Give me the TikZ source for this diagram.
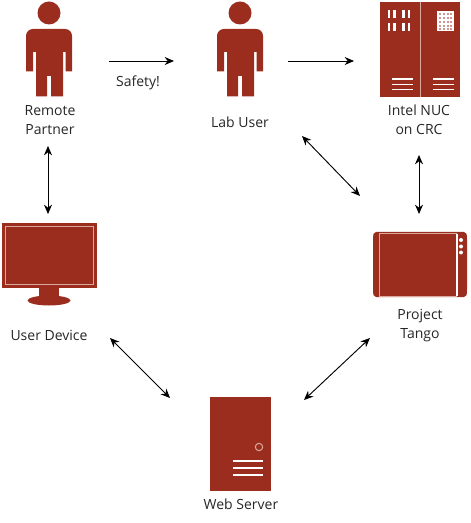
\documentclass[tikz,border=0pt]{standalone}
\usepackage{fontspec}
\setmainfont{Open Sans}
\usetikzlibrary{arrows.meta,positioning}
\definecolor{devred}{HTML}{9B2D1F}
\definecolor{devpale}{HTML}{D9A9A0}
\tikzset{
    device/.style={fill=devred,draw=none},
    pale line/.style={draw=devpale,line width=.75pt},
    white bar/.style={draw=white,line width=1pt},
    darr/.style={<->,>={Stealth[length=7pt,width=6pt]},line width=.7pt},
    arr/.style={->,>={Stealth[length=7pt,width=6pt]},line width=.7pt},
    tag/.style={font=\fontsize{10.5}{14.2}\selectfont,align=center,inner sep=0pt,text=black!85},
    person/.pic={
        \fill[devred] (0,-37) circle (11.5);
        \fill[devred] (-23,21.5) -- (-23,-14)
            .. controls (-23,-18) and (-20,-21) .. (-16,-21) -- (16,-21)
            .. controls (20,-21) and (23,-18) .. (23,-14) -- (23,21.5) -- (16.7,21.5) -- (16.7,2)
            -- (14,2) -- (14,46.5) -- (2,46.5) -- (2,26) -- (-2,26) -- (-2,46.5)
            -- (-13,46.5) -- (-13,2) -- (-16,2) -- (-16,21.5) -- cycle;
    },
}

\begin{document}
\begin{tikzpicture}[x=.75pt,y=-.75pt]
    \useasboundingbox (0,0) rectangle (470,523);

    \pic at (49,50) {person};
    \pic at (240,50) {person};

    % rack
    \fill[device] (380,2) rectangle (460,97);
    \draw[pale line] (420,2) -- (420,97);
    \foreach \x in {389,394.5,403.5,409}{
        \draw[white bar,line width=1.7pt] (\x,10.5) -- (\x,18.5);
        \draw[white bar,line width=1.7pt] (\x,23) -- (\x,31);
    }
    \fill[white] (437,11) rectangle (454,31);
    \foreach \x in {440,444,448,451}
        \foreach \y in {14,18,22,26,29}
            \fill[devred] (\x,\y) circle (.9);
    \foreach \y in {79,84.5,89.5}{
        \draw[white bar] (392,\y) -- (413,\y);
        \draw[white bar] (433,\y) -- (454,\y);
    }

    % tablet
    \fill[device] (376,232) -- (464,232)
        .. controls (466.5,232) and (467,234) .. (467,240) -- (467,289)
        .. controls (467,295) and (466.5,297) .. (464,297) -- (376,297)
        .. controls (373.5,297) and (373,295) .. (373,289) -- (373,240)
        .. controls (373,234) and (373.5,232) .. (376,232) -- cycle;
    \draw[pale line] (457,234) -- (379.5,234) -- (379.5,296) -- (457,296);
    \draw[white bar,line width=.8pt] (457,234) -- (457,296);
    \foreach \y in {240,246.5,252.5}
        \fill[white] (461,\y) circle (2);

    % monitor
    \fill[device] (2,223) rectangle (97,288);
    \draw[pale line] (5,227) rectangle (93,284);
    \fill[device] (39,288) rectangle (59,297);
    \fill[device] (49,300.5) ellipse (21.5 and 5);

    % server
    \fill[device] (210,397) rectangle (271,491);
    \draw[pale line] (259,447) circle (3.7);
    \foreach \y in {461,468,475}
        \draw[white bar,line width=1.4pt] (233,\y) -- (263,\y);

    \node[tag] (partner) at (50,120) {Remote\\Partner};
    \node[tag] (safety) at (138,83) {Safety!};
    \node[tag] (labuser) at (240,122) {Lab User};
    \node[tag] (nuc) at (419,120) {Intel NUC\\on CRC};
    \node[tag] (tango) at (420,326) {Project\\Tango};
    \node[tag] (userdev) at (49,335) {User Device};
    \node[tag] (webserver) at (241,504) {Web Server};

    \coordinate (partner out) at (109,61);
    \coordinate (lab in) at (174,61);
    \coordinate (lab out) at (288,61);
    \coordinate (nuc in) at (354,61);
    \coordinate (partner low) at (48,146);
    \coordinate (monitor top) at (48,214);
    \coordinate (lab low) at (302,136);
    \coordinate (tango left) at (360,196);
    \coordinate (nuc low) at (419,155);
    \coordinate (tango top) at (419,214);
    \coordinate (monitor low) at (110,338);
    \coordinate (server left) at (170,398);
    \coordinate (server right) at (304,400);
    \coordinate (tango low) at (370,338);

    \draw[arr] (partner out) -- (lab in);
    \draw[arr] (lab out) -- (nuc in);
    \draw[darr] (partner low) -- (monitor top);
    \draw[darr] (lab low) -- (tango left);
    \draw[darr] (nuc low) -- (tango top);
    \draw[darr] (monitor low) -- (server left);
    \draw[darr] (server right) -- (tango low);
\end{tikzpicture}
\end{document}
